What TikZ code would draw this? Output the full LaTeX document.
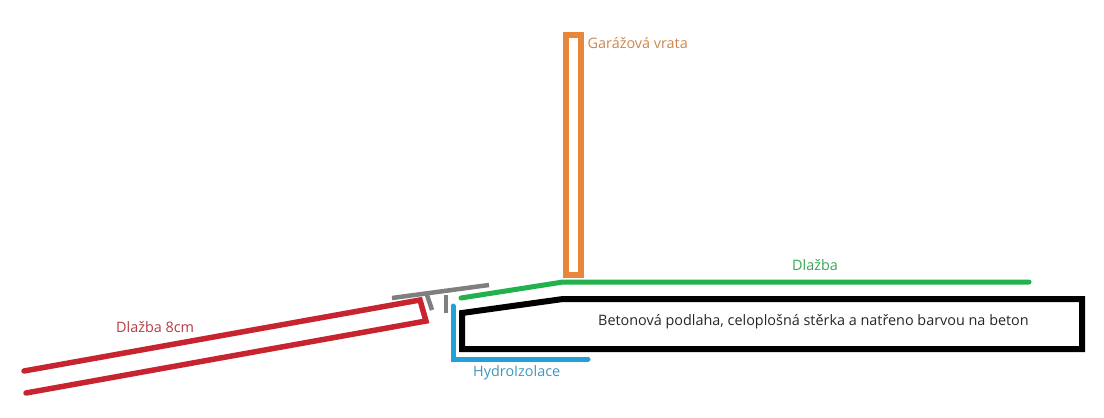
\documentclass[tikz,border=0pt]{standalone}
\usepackage{fontspec}
\setmainfont{Open Sans}
\definecolor{cred}{HTML}{C8242F}
\definecolor{cgray}{HTML}{7F7F7F}
\definecolor{cblue}{HTML}{22A0D8}
\definecolor{cgreen}{HTML}{22B14C}
\definecolor{corange}{HTML}{E8873A}
\tikzset{
  part/.style={line width=#1, line join=miter},
  part/.default=5.5pt,
  lbl/.style={inner sep=0pt, anchor=mid west, font=\fontsize{14.4pt}{16pt}\selectfont},
}
\begin{document}
\begin{tikzpicture}[x=1pt,y=-1pt]
\useasboundingbox (0,0) rectangle (1104,418);
% red slab
\draw[part, cred, line cap=round] (24,371) -- (420,300) -- (426,321) -- (26,393);
% grey profile
\draw[part=4.5pt, cgray] (392,298) -- (489,285);
\draw[part=4.5pt, cgray] (427,295) -- (432,310);
\draw[part=4.5pt, cgray] (446,295) -- (446,313);
% waterproofing
\draw[part=5pt, cblue, line cap=round] (453,306) -- (453,359) -- (588,359);
% paving
\draw[part=5pt, cgreen, line cap=round] (461,298) -- (563,282) -- (1029,282);
% concrete floor
\draw[part=6pt, black] (462,313) -- (563,299) -- (1082,299) -- (1082,349) -- (462,349) -- cycle;
% door
\draw[part=6pt, corange] (566,35) rectangle (581,275);
% labels
\node[lbl, text=corange!75!gray] (door) at (587.5,45.5) {Garážová vrata};
\node[lbl, text=cgreen!80!gray] (pav) at (792,267.5) {Dlažba};
\node[lbl, text=cred!75!gray] (red) at (116,330) {Dlažba 8cm};
\node[lbl, text=cblue!70!gray] (hyd) at (473,373.5) {HydroIzolace};
\node[lbl, text=black!85] (floor) at (598,322.5) {Betonová podlaha, celoplošná stěrka a natřeno barvou na beton};
\end{tikzpicture}
\end{document}
